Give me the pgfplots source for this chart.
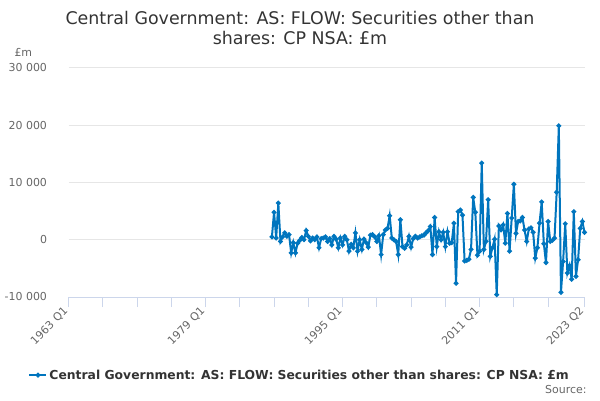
\documentclass[border=0pt]{standalone}
\usepackage{pgfplots}
\pgfplotsset{compat=1.18}
\usepackage{pgfplotstable}
\usepackage{fontspec}
\setmainfont{DejaVu Sans}
\definecolor{titlegrey}{HTML}{333333}
\definecolor{labelgrey}{HTML}{666666}
\definecolor{gridgrey}{HTML}{E6E6E6}
\definecolor{axisgrey}{HTML}{CCD6EB}
\definecolor{serblue}{RGB}{0,117,190}
\pgfplotstableread{
q v
95 500
96 4800
97 300
98 6400
99 -300
100 500
101 1200
102 600
103 900
104 -2300
105 -500
106 -2300
107 -600
108 -100
109 400
110 0
111 1600
112 600
113 -200
114 300
115 0
116 500
117 -1400
118 200
119 300
120 500
121 -300
122 200
123 -900
124 600
125 100
126 -1400
127 300
128 -900
129 600
130 0
131 -2000
132 -800
133 -1400
134 1200
135 -2000
136 0
137 -1700
138 100
139 -500
140 -1300
141 800
142 900
143 500
144 -300
145 700
146 -2600
147 900
148 1700
149 2000
150 4200
151 300
152 0
153 -300
154 -2600
155 3500
156 -1200
157 -1500
158 -900
159 600
160 -1300
161 200
162 600
163 300
164 500
165 700
166 800
167 1200
168 1600
169 2300
170 -2600
171 3900
172 -1200
173 1400
174 0
175 1300
176 -1200
177 1400
178 -600
179 -500
180 2900
181 -7600
182 4900
183 5200
184 4300
185 -3700
186 -3600
187 -3400
188 -1700
189 7400
190 4800
191 -2700
192 -2000
193 13400
194 -1700
195 -300
196 7000
197 -2900
198 -1400
199 100
200 -9600
201 2400
202 1700
203 2600
204 -600
205 4600
206 -2000
207 3800
208 9700
209 1100
210 3200
211 3300
212 3900
213 1700
214 -300
215 1900
216 2100
217 1300
218 -3200
219 -1400
220 2900
221 6600
222 -700
223 -4000
224 3200
225 -300
226 -100
227 300
228 8300
229 19900
230 -9200
231 -3800
232 2800
233 -5800
234 -4500
235 -6900
236 4900
237 -6400
238 -3500
239 2000
240 3200
241 1300
}\series
\begin{document}
\begin{tikzpicture}[x=1bp,y=1bp]
\useasboundingbox (0,0) rectangle (600,400);
\node[font=\fontsize{17.5}{20.5}\selectfont, text=titlegrey, align=center] at (300,372)
  {Central Government: AS: FLOW: Securities other than\\shares: CP NSA: £m};
\node[font=\fontsize{11}{13}\selectfont, text=labelgrey, anchor=west] at (11,348) {£m};
\node[font=\fontsize{11}{13}\selectfont, text=labelgrey, anchor=east] at (590,10) {Source:};
\begin{axis}[
  at={(68.5bp,103bp)}, anchor=south west,
  scale only axis, width=516bp, height=229bp,
  xmin=0, xmax=241, ymin=-10000, ymax=30000,
  axis x line*=bottom, axis y line*=left,
  y axis line style={draw=none},
  x axis line style={draw=axisgrey, line width=1bp, -},
  tick align=outside,
  major tick length=10bp, minor tick length=10bp,
  xtick={0,64,128,192,241},
  xticklabels={1963 Q1,1979 Q1,1995 Q1,2011 Q1,2023 Q2},
  minor xtick={16,32,48,80,96,112,144,160,176,208,224},
  xtick style={draw=axisgrey, line width=1bp},
  minor x tick style={draw=axisgrey, line width=1bp},
  ytick={-10000,0,10000,20000,30000},
  yticklabels={-10 000,0,10 000,20 000,30 000},
  scaled y ticks=false,
  ytick style={draw=none},
  ymajorgrids, major grid style={draw=gridgrey, line width=1bp},
  tick label style={font=\fontsize{11}{13}\selectfont, text=labelgrey},
  xticklabel style={rotate=45, anchor=east},
  yticklabel style={anchor=east, xshift=-8bp},
  legend style={at={(0.448,-0.341)}, anchor=center, draw=none, fill=none,
     font=\bfseries\fontsize{12.4}{14}\selectfont, text=titlegrey},
  legend cell align=left,
  clip=false,
]
\addplot[serblue, line width=2bp, mark=*, mark size=1.3bp,
  mark options={solid, fill=serblue, draw=serblue}] table[x=q, y=v] {\series};
\addlegendentry{Central Government: AS: FLOW: Securities other than shares: CP NSA: £m}
\end{axis}
\end{tikzpicture}
\end{document}
